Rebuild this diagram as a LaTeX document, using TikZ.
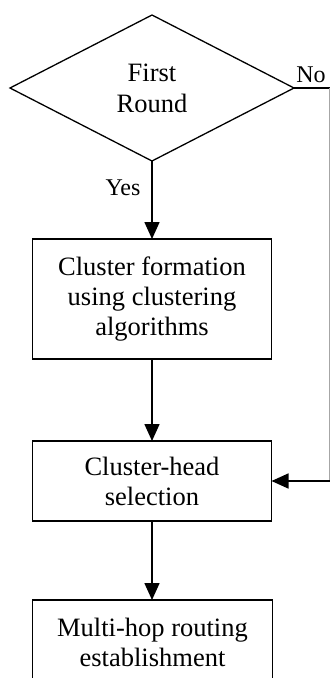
\documentclass[tikz,border=0pt]{standalone}
\usepackage{fontspec}
\setmainfont{Liberation Serif}
\usetikzlibrary{shapes.geometric,arrows.meta}
\begin{document}
\begin{tikzpicture}[x=1pt,y=-1pt,
  every node/.style={inner sep=0pt,outer sep=0pt},
  boxnode/.style={draw,line width=1.6pt,align=center,font=\fontsize{26.5}{30}\selectfont,minimum width=239pt},
  lbl/.style={font=\fontsize{24}{28}\selectfont},
  conn/.style={line width=1.6pt},
  arr/.style={conn,-{Triangle[length=17pt,width=15pt]}}]
\useasboundingbox (0,0) rectangle (331,678);
\node[draw,diamond,line width=1.3pt,minimum width=284pt,minimum height=146pt,aspect=1.95,align=center,font=\fontsize{26.5}{31}\selectfont] (d) at (152,88) {First\\Round};
\node[boxnode,minimum height=120pt] (b1) at (152,299) {Cluster formation\\using clustering\\algorithms};
\node[boxnode,minimum height=80pt] (b2) at (152,481) {Cluster-head\\selection};
\node[boxnode,minimum width=240pt,minimum height=84pt] (b3) at (152.5,642) {Multi-hop routing\\establishment};
\coordinate (c1) at (329.5,88);
\coordinate (c2) at (329.5,481);
\draw[arr] (d.south) -- (b1.north);
\draw[arr] (b1.south) -- (b2.north);
\draw[arr] (b2.south) -- (b2.south |- b3.north);
\draw[conn] (d.east) -- (c1);
\draw[black!35,line width=1pt] (c1) -- (c2);
\draw[arr] (c2) -- (b2.east);
\node[lbl] (yes) at (123,188) {Yes};
\node[lbl] (no) at (311,75) {No};
\end{tikzpicture}
\end{document}
